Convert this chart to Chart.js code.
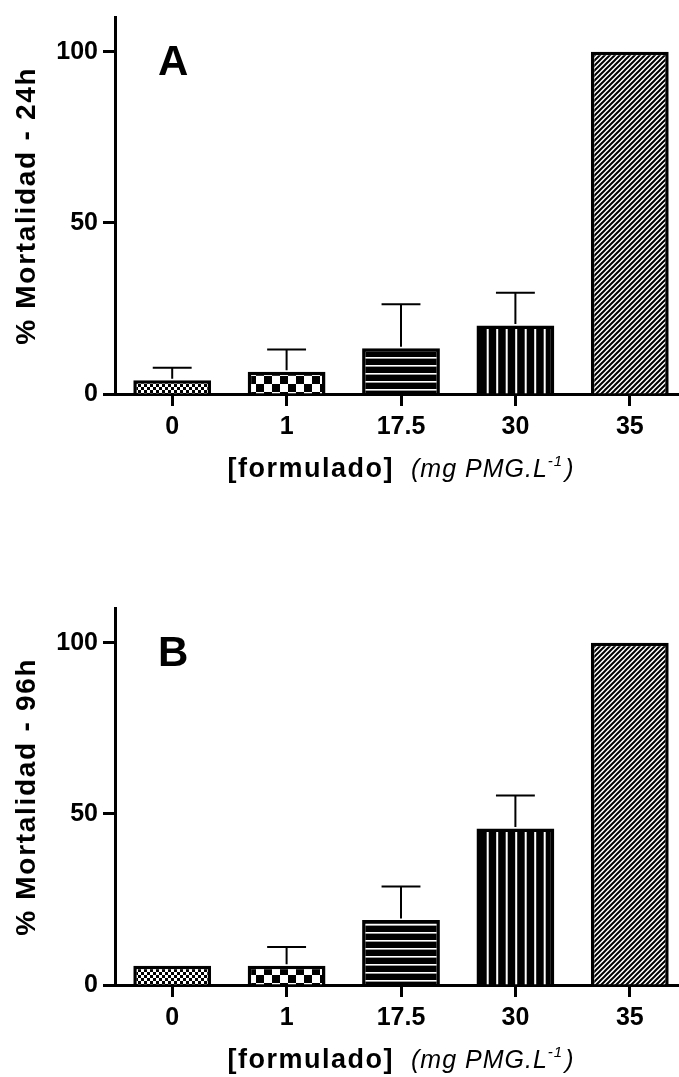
<!DOCTYPE html>
<html>
<head>
<meta charset="utf-8">
<script src="https://cdn.jsdelivr.net/npm/chart.js@4.4.1/dist/chart.umd.min.js"></script>
<style>
  html, body { margin: 0; padding: 0; background: #fff; overflow: hidden; }
  #page { position: relative; width: 679px; height: 1077px; overflow: hidden; }
  .panel { position: absolute; left: 0; width: 690px; height: 486px; }
</style>
</head>
<body>
<div id="page">
  <div class="panel" style="top:0"><canvas id="chartA" width="690" height="486"></canvas></div>
  <div class="panel" style="top:591px"><canvas id="chartB" width="690" height="486"></canvas></div>
</div>
<script>
const categories = ["0", "1", "17.5", "30", "35"];
const mort24 = [4, 6.5, 13.4, 20, 100];
const err24 = [3.7, 6.5, 12.8, 9.6, 0];
const mort96 = [5.6, 5.6, 19, 45.7, 100];
const err96 = [0, 5.5, 9.8, 9.7, 0];
const yTicks = [0, 50, 100];

const FONT = "'Liberation Sans', Arial, sans-serif";

// small tiles used as bar fills
function tile(w, h, draw) {
  const c = document.createElement("canvas");
  c.width = w; c.height = h;
  const g = c.getContext("2d");
  g.fillStyle = "#fff";
  g.fillRect(0, 0, w, h);
  g.fillStyle = "#000";
  draw(g);
  return c;
}

function makePatterns(ctx) {
  const fineChecker = tile(6, 6, g => { g.fillRect(0, 0, 3, 3); g.fillRect(3, 3, 3, 3); });
  const bigChecker = tile(16, 16, g => { g.fillRect(0, 0, 8, 8); g.fillRect(8, 8, 8, 8); });
  const hStripes = tile(8, 8, g => { g.fillRect(0, 0, 8, 8); g.fillStyle = "#fff"; g.fillRect(0, 5, 8, 1.6); });
  const vStripes = tile(19, 4, g => {
    g.fillRect(0, 0, 19, 4); g.fillStyle = "#fff";
    g.fillRect(2.2, 0, 2, 4); g.fillRect(11.7, 0, 2, 4);
  });
  const hatch = tile(5, 5, g => {
    g.strokeStyle = "#000"; g.lineWidth = 2;
    g.beginPath();
    g.moveTo(-1, 6); g.lineTo(6, -1);
    g.moveTo(-1, 1); g.lineTo(1, -1);
    g.moveTo(4, 6); g.lineTo(6, 4);
    g.stroke();
  });
  return [fineChecker, bigChecker, hStripes, vStripes, hatch].map(t => ctx.createPattern(t, "repeat"));
}

const deco = {
  id: "deco",
  afterDatasetsDraw(chart, args, opts) {
    const ctx = chart.ctx;
    const xs = chart.scales.x, ys = chart.scales.y;
    const vals = chart.data.datasets[0].data;
    const bars = chart.getDatasetMeta(0).data;
    ctx.save();
    ctx.strokeStyle = "#000";
    ctx.lineWidth = 2;
    vals.forEach((v, i) => {
      const e = opts.errors[i];
      if (!e) return;
      const cx = xs.getPixelForValue(i);
      const y0 = ys.getPixelForValue(v);
      const y1 = ys.getPixelForValue(v + e);
      const half = bars[i].width / 4;
      ctx.beginPath();
      ctx.moveTo(cx, y0 - 1.5); ctx.lineTo(cx, y1);
      ctx.moveTo(cx - half, y1); ctx.lineTo(cx + half, y1);
      ctx.stroke();
    });
    ctx.restore();
  },
  afterDraw(chart, args, opts) {
    const ctx = chart.ctx;
    const area = chart.chartArea;
    ctx.save();
    ctx.fillStyle = "#000";

    // panel letter
    ctx.font = "bold 42px " + FONT;
    ctx.textAlign = "left";
    ctx.textBaseline = "alphabetic";
    ctx.fillText(opts.letter, 158, area.top + 57);

    // y title
    ctx.save();
    ctx.translate(35, (area.top + area.bottom) / 2);
    ctx.rotate(-Math.PI / 2);
    ctx.font = "bold 28px " + FONT;
    ctx.letterSpacing = "1.7px";
    ctx.textAlign = "center";
    ctx.fillText(opts.yTitle, 0, 0);
    ctx.restore();

    // x title: bold part + italic unit with superscript
    const base = area.bottom + 83;
    const boldTxt = "[formulado]", unitTxt = "(mg PMG.L", supTxt = "-1", endTxt = ")";
    ctx.letterSpacing = "1.5px";
    ctx.font = "bold 27px " + FONT;
    const wBold = ctx.measureText(boldTxt).width;
    ctx.letterSpacing = "1px";
    ctx.font = "italic 25px " + FONT;
    const wUnit = ctx.measureText(unitTxt).width;
    const wEnd = ctx.measureText(endTxt).width;
    ctx.font = "italic 15px " + FONT;
    const wSup = ctx.measureText(supTxt).width;
    const gap = 17;
    const total = wBold + gap + wUnit + wSup + 2 + wEnd;
    let x = (area.left + area.right) / 2 - total / 2;
    ctx.textAlign = "left";
    ctx.letterSpacing = "1.5px";
    ctx.font = "bold 27px " + FONT;
    ctx.fillText(boldTxt, x, base);
    x += wBold + gap;
    ctx.letterSpacing = "1px";
    ctx.font = "italic 25px " + FONT;
    ctx.fillText(unitTxt, x, base);
    x += wUnit;
    ctx.font = "italic 15px " + FONT;
    ctx.fillText(supTxt, x, base - 11);
    x += wSup + 2;
    ctx.font = "italic 25px " + FONT;
    ctx.fillText(endTxt, x, base);
    ctx.restore();
  }
};

function buildChart(id, values, errors, letter, yTitle) {
  const canvas = document.getElementById(id);
  const ctx = canvas.getContext("2d");
  const tickFont = { family: FONT, size: 25, weight: "bold", lineHeight: 1 };
  return new Chart(ctx, {
    type: "bar",
    data: {
      labels: categories,
      datasets: [{
        data: values,
        backgroundColor: makePatterns(ctx),
        borderColor: "#000",
        borderWidth: 3.5,
        barPercentage: 0.68,
        categoryPercentage: 1,
      }],
    },
    options: {
      responsive: false,
      devicePixelRatio: 1,
      animation: false,
      layout: { padding: { top: 14, left: 0, right: 3, bottom: 0 } },
      plugins: {
        legend: { display: false },
        tooltip: { enabled: false },
        deco: { errors: errors, letter: letter, yTitle: yTitle },
      },
      scales: {
        x: {
          offset: true,
          grid: { display: true, drawOnChartArea: false, drawTicks: true, tickLength: 12, tickWidth: 3, tickColor: "#000", offset: false },
          border: { display: true, color: "#000", width: 3 },
          ticks: { color: "#000", font: tickFont, padding: 9, maxRotation: 0 },
          afterFit(s) { s.height = 486 - 394; },
        },
        y: {
          min: 0,
          max: 110,
          afterBuildTicks(s) { s.ticks = yTicks.map(v => ({ value: v })); },
          grid: { display: true, drawOnChartArea: false, drawTicks: true, tickLength: 12, tickWidth: 3, tickColor: "#000" },
          border: { display: true, color: "#000", width: 3 },
          ticks: { color: "#000", font: tickFont, padding: 5 },
          afterFit(s) { s.width = 115; },
        },
      },
    },
    plugins: [deco],
  });
}

buildChart("chartA", mort24, err24, "A", "% Mortalidad - 24h");
buildChart("chartB", mort96, err96, "B", "% Mortalidad - 96h");
</script>
</body>
</html>
